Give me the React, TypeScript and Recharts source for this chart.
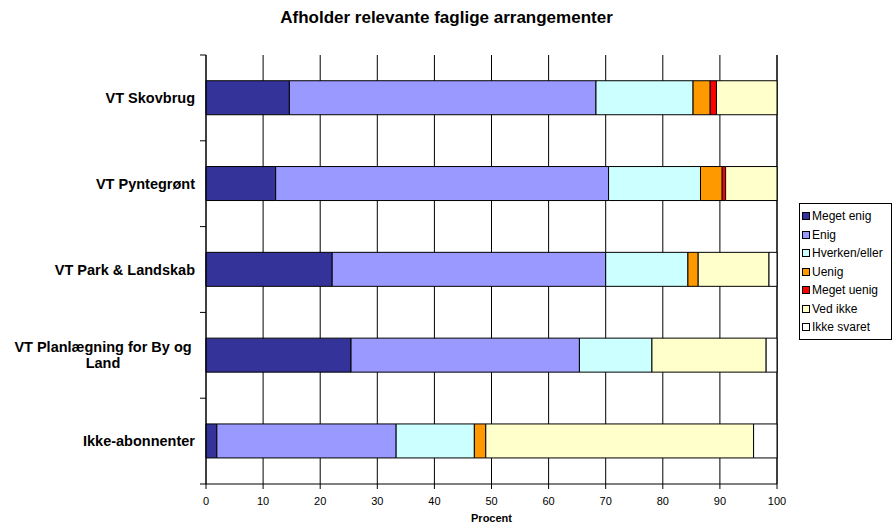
import { BarChart, Bar, XAxis, YAxis, CartesianGrid, Legend } from "recharts"

const categories = [
  "VT Skovbrug",
  "VT Pyntegrønt",
  "VT Park & Landskab",
  "VT Planlægning for By og|Land",
  "Ikke-abonnenter",
]
const megetEnig = [14.6, 12.2, 22.1, 25.4, 1.9]
const enig = [53.7, 58.3, 47.9, 40.0, 31.4]
const hverken = [17.0, 16.1, 14.4, 12.7, 13.7]
const uenig = [3.0, 3.8, 1.8, 0, 2.0]
const megetUenig = [1.1, 0.6, 0, 0, 0]
const vedIkke = [10.6, 9.0, 12.4, 20.0, 46.9]
const ikkeSvaret = [0, 0, 1.4, 1.9, 4.1]
const xTicks = [0, 10, 20, 30, 40, 50, 60, 70, 80, 90, 100]

const series = [
  { key: "megetEnig", name: "Meget enig", color: "#333399", values: megetEnig },
  { key: "enig", name: "Enig", color: "#9999FF", values: enig },
  { key: "hverken", name: "Hverken/eller", color: "#CCFFFF", values: hverken },
  { key: "uenig", name: "Uenig", color: "#FF9900", values: uenig },
  { key: "megetUenig", name: "Meget uenig", color: "#FF0000", values: megetUenig },
  { key: "vedIkke", name: "Ved ikke", color: "#FFFFCC", values: vedIkke },
  { key: "ikkeSvaret", name: "Ikke svaret", color: "#FFFFFF", values: ikkeSvaret },
]

const data = categories.map((c, i) => {
  const row: Record<string, string | number> = { category: c }
  series.forEach((s) => (row[s.key] = s.values[i]))
  return row
})

const font = "Arial, 'Liberation Sans', sans-serif"
const LABEL_GAP = 11

// category label plus the boundary tick marks Excel puts between categories
function CategoryTick(props: any) {
  const { x, y, payload, index, visibleTicksCount } = props
  const half = payload.offset || 0
  const axisX = x + LABEL_GAP
  const lines = String(payload.value).split("|")
  const marks = (
    <>
      <line x1={axisX - 6} x2={axisX} y1={y - half} y2={y - half} stroke="#000" />
      {index === visibleTicksCount - 1 && <line x1={axisX - 6} x2={axisX} y1={y + half} y2={y + half} stroke="#000" />}
    </>
  )
  if (lines.length === 1) {
    return (
      <g>
        {marks}
        <text x={x} y={y} dy={5} textAnchor="end" fontSize={14.5} fontWeight="bold" fill="#000" fontFamily={font}>
          {lines[0]}
        </text>
      </g>
    )
  }
  return (
    <g>
      {marks}
      <text x={x - 92} y={y} textAnchor="middle" fontSize={14.5} fontWeight="bold" fill="#000" fontFamily={font}>
        {lines.map((l, i) => (
          <tspan key={i} x={x - 92} dy={i === 0 ? -3 : 16}>
            {l}
          </tspan>
        ))}
      </text>
    </g>
  )
}

function LegendBox() {
  return (
    <div
      style={{
        border: "1px solid #000",
        background: "#fff",
        padding: "3px 2px 2px 2px",
        width: 87,
        fontSize: 12,
        fontFamily: font,
        lineHeight: "18.5px",
      }}
    >
      {series.map((s) => (
        <div key={s.key} style={{ display: "flex", alignItems: "center", whiteSpace: "nowrap" }}>
          <span
            style={{
              display: "inline-block",
              width: 6,
              height: 6,
              border: "1px solid #000",
              background: s.color,
              marginRight: 2,
            }}
          />
          {s.name}
        </div>
      ))}
    </div>
  )
}

export default function App() {
  return (
    <div style={{ position: "absolute", left: 0, top: 0, width: 893, height: 529, background: "#fff", fontFamily: font }}>
      <div
        style={{
          position: "absolute",
          left: 0,
          top: 9,
          width: 893,
          textAlign: "center",
          fontSize: 17,
          fontWeight: "bold",
          lineHeight: "18px",
        }}
      >
        Afholder relevante faglige arrangementer
      </div>
      <BarChart
        width={893}
        height={529}
        data={data}
        layout="vertical"
        margin={{ top: 55, right: 116, bottom: 5, left: 0 }}
        barCategoryGap="30%"
      >
        <CartesianGrid horizontal={false} stroke="#000" />
        <XAxis
          xAxisId={0}
          type="number"
          domain={[0, 100]}
          ticks={xTicks}
          tickSize={5}
          tickMargin={8}
          height={40}
          stroke="#000"
          tick={{ fontSize: 11, fill: "#000", fontFamily: font }}
          label={{ value: "Procent", position: "insideBottom", offset: 2, fontSize: 11, fontWeight: "bold", fill: "#000", fontFamily: font }}
        />
        <XAxis
          xAxisId="top"
          orientation="top"
          type="number"
          domain={[0, 100]}
          height={0}
          tick={false}
          tickLine={false}
          axisLine={{ stroke: "#808080" }}
        />
        <YAxis
          yAxisId={0}
          type="category"
          dataKey="category"
          width={206}
          tickSize={0}
          tickMargin={LABEL_GAP}
          stroke="#000"
          tick={<CategoryTick />}
        />
        <Legend
          layout="horizontal"
          verticalAlign="middle"
          align="center"
          wrapperStyle={{ left: 799, top: 203, width: "auto" }}
          content={() => <LegendBox />}
        />
        {series.map((s) => (
          <Bar
            key={s.key}
            dataKey={s.key}
            name={s.name}
            stackId="a"
            fill={s.color}
            stroke="#000"
            strokeWidth={1}
            isAnimationActive={false}
          />
        ))}
      </BarChart>
    </div>
  )
}
